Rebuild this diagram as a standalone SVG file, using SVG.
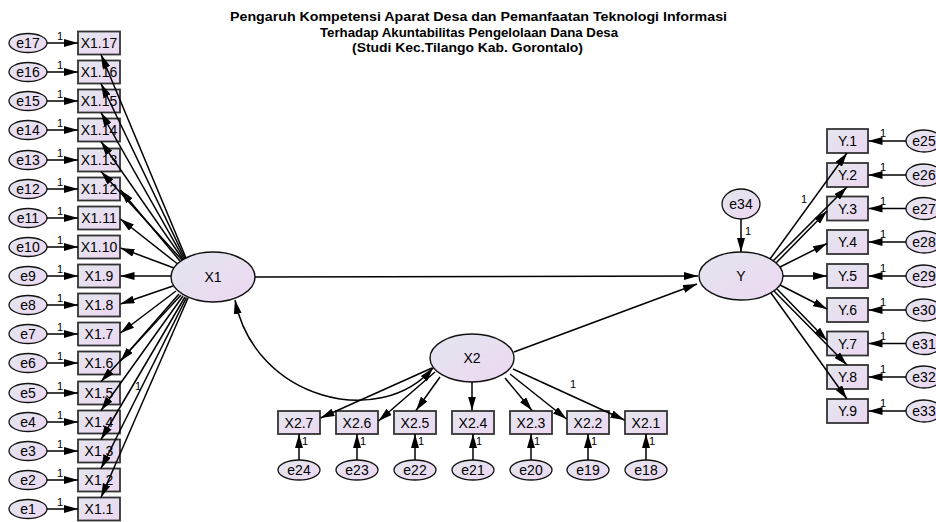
<svg xmlns="http://www.w3.org/2000/svg" width="936" height="522" viewBox="0 0 936 522">
<defs>
<linearGradient id="g" x1="0" y1="0" x2="1" y2="1">
<stop offset="0" stop-color="#e3e6ee"/>
<stop offset="1" stop-color="#edd7f2"/>
</linearGradient>
<marker id="ah" viewBox="0 0 14 8" refX="14" refY="4" markerWidth="14" markerHeight="8" markerUnits="userSpaceOnUse" orient="auto-start-reverse">
<path d="M0,0 L14,4 L0,8 z" fill="#000"/>
</marker>
</defs>
<style>
rect.ob{fill:url(#g);stroke:#333;stroke-width:1.8}
ellipse.lv{fill:url(#g);stroke:#111;stroke-width:1.4}
ellipse.er{fill:url(#g);stroke:#111;stroke-width:1.3}
text{font-family:"Liberation Sans",Arial,sans-serif;fill:#000}
text.n{font-size:14px;text-anchor:middle}
text.w{font-size:11px;text-anchor:middle}
text.t{font-size:13px;font-weight:bold}
#connectors path{fill:none;stroke:#000;stroke-width:1.5;marker-end:url(#ah)}
#connectors path.cov{marker-start:url(#ah)}
</style>
<rect x="0" y="0" width="936" height="522" fill="#fff"/>
<g id="title">
<text class="t" x="230" y="21" textLength="497" lengthAdjust="spacingAndGlyphs">Pengaruh Kompetensi Aparat Desa dan Pemanfaatan Teknologi Informasi</text>
<text class="t" x="320" y="37" textLength="298" lengthAdjust="spacingAndGlyphs">Terhadap Akuntabilitas Pengelolaan Dana Desa</text>
<text class="t" x="352" y="52" textLength="231" lengthAdjust="spacingAndGlyphs">(Studi Kec.Tilango Kab. Gorontalo)</text>
</g>
<!-- latent -->
<g id="X1"><ellipse class="lv" cx="213" cy="277" rx="42" ry="25"/><text class="n" x="213" y="282">X1</text></g>
<g id="X2"><ellipse class="lv" cx="472" cy="358" rx="42" ry="24"/><text class="n" x="472" y="363">X2</text></g>
<g id="Y"><ellipse class="lv" cx="741" cy="276" rx="42" ry="24"/><text class="n" x="741" y="281">Y</text></g>
<g id="e34"><ellipse class="er" cx="741" cy="204" rx="19" ry="15"/><text class="n" x="741" y="209">e34</text></g>
<!-- X1 indicators -->
<g id="X1.17"><rect class="ob" x="78" y="31.5" width="42" height="23"/><text class="n" x="99" y="48">X1.17</text></g>
<g id="X1.16"><rect class="ob" x="78" y="60.5" width="42" height="23"/><text class="n" x="99" y="77">X1.16</text></g>
<g id="X1.15"><rect class="ob" x="78" y="89.5" width="42" height="23"/><text class="n" x="99" y="106">X1.15</text></g>
<g id="X1.14"><rect class="ob" x="78" y="118.5" width="42" height="23"/><text class="n" x="99" y="135">X1.14</text></g>
<g id="X1.13"><rect class="ob" x="78" y="148.5" width="42" height="23"/><text class="n" x="99" y="165">X1.13</text></g>
<g id="X1.12"><rect class="ob" x="78" y="177.5" width="42" height="23"/><text class="n" x="99" y="194">X1.12</text></g>
<g id="X1.11"><rect class="ob" x="78" y="206.5" width="42" height="23"/><text class="n" x="99" y="223">X1.11</text></g>
<g id="X1.10"><rect class="ob" x="78" y="235.5" width="42" height="23"/><text class="n" x="99" y="252">X1.10</text></g>
<g id="X1.9"><rect class="ob" x="78" y="264.5" width="42" height="23"/><text class="n" x="99" y="281">X1.9</text></g>
<g id="X1.8"><rect class="ob" x="78" y="293.5" width="42" height="23"/><text class="n" x="99" y="310">X1.8</text></g>
<g id="X1.7"><rect class="ob" x="78" y="322.5" width="42" height="23"/><text class="n" x="99" y="339">X1.7</text></g>
<g id="X1.6"><rect class="ob" x="78" y="351.5" width="42" height="23"/><text class="n" x="99" y="368">X1.6</text></g>
<g id="X1.5"><rect class="ob" x="78" y="381.5" width="42" height="23"/><text class="n" x="99" y="398">X1.5</text></g>
<g id="X1.4"><rect class="ob" x="78" y="410.5" width="42" height="23"/><text class="n" x="99" y="427">X1.4</text></g>
<g id="X1.3"><rect class="ob" x="78" y="439.5" width="42" height="23"/><text class="n" x="99" y="456">X1.3</text></g>
<g id="X1.2"><rect class="ob" x="78" y="468.5" width="42" height="23"/><text class="n" x="99" y="485">X1.2</text></g>
<g id="X1.1"><rect class="ob" x="78" y="497.5" width="42" height="23"/><text class="n" x="99" y="514">X1.1</text></g>
<!-- X1 errors -->
<g id="e17"><ellipse class="er" cx="28" cy="43" rx="19" ry="9.5"/><text class="n" x="28" y="48">e17</text></g>
<g id="e16"><ellipse class="er" cx="28" cy="72" rx="19" ry="9.5"/><text class="n" x="28" y="77">e16</text></g>
<g id="e15"><ellipse class="er" cx="28" cy="101" rx="19" ry="9.5"/><text class="n" x="28" y="106">e15</text></g>
<g id="e14"><ellipse class="er" cx="28" cy="130" rx="19" ry="9.5"/><text class="n" x="28" y="135">e14</text></g>
<g id="e13"><ellipse class="er" cx="28" cy="160" rx="19" ry="9.5"/><text class="n" x="28" y="165">e13</text></g>
<g id="e12"><ellipse class="er" cx="28" cy="189" rx="19" ry="9.5"/><text class="n" x="28" y="194">e12</text></g>
<g id="e11"><ellipse class="er" cx="28" cy="218" rx="19" ry="9.5"/><text class="n" x="28" y="223">e11</text></g>
<g id="e10"><ellipse class="er" cx="28" cy="247" rx="19" ry="9.5"/><text class="n" x="28" y="252">e10</text></g>
<g id="e9"><ellipse class="er" cx="28" cy="276" rx="19" ry="9.5"/><text class="n" x="28" y="281">e9</text></g>
<g id="e8"><ellipse class="er" cx="28" cy="305" rx="19" ry="9.5"/><text class="n" x="28" y="310">e8</text></g>
<g id="e7"><ellipse class="er" cx="28" cy="334" rx="19" ry="9.5"/><text class="n" x="28" y="339">e7</text></g>
<g id="e6"><ellipse class="er" cx="28" cy="363" rx="19" ry="9.5"/><text class="n" x="28" y="368">e6</text></g>
<g id="e5"><ellipse class="er" cx="28" cy="393" rx="19" ry="9.5"/><text class="n" x="28" y="398">e5</text></g>
<g id="e4"><ellipse class="er" cx="28" cy="422" rx="19" ry="9.5"/><text class="n" x="28" y="427">e4</text></g>
<g id="e3"><ellipse class="er" cx="28" cy="451" rx="19" ry="9.5"/><text class="n" x="28" y="456">e3</text></g>
<g id="e2"><ellipse class="er" cx="28" cy="480" rx="19" ry="9.5"/><text class="n" x="28" y="485">e2</text></g>
<g id="e1"><ellipse class="er" cx="28" cy="509" rx="19" ry="9.5"/><text class="n" x="28" y="514">e1</text></g>
<!-- X2 indicators -->
<g id="X2.7"><rect class="ob" x="278" y="411" width="42" height="23"/><text class="n" x="299" y="427.5">X2.7</text></g>
<g id="X2.6"><rect class="ob" x="336" y="411" width="42" height="23"/><text class="n" x="357" y="427.5">X2.6</text></g>
<g id="X2.5"><rect class="ob" x="394" y="411" width="42" height="23"/><text class="n" x="415" y="427.5">X2.5</text></g>
<g id="X2.4"><rect class="ob" x="452" y="411" width="42" height="23"/><text class="n" x="473" y="427.5">X2.4</text></g>
<g id="X2.3"><rect class="ob" x="510" y="411" width="42" height="23"/><text class="n" x="531" y="427.5">X2.3</text></g>
<g id="X2.2"><rect class="ob" x="567" y="411" width="42" height="23"/><text class="n" x="588" y="427.5">X2.2</text></g>
<g id="X2.1"><rect class="ob" x="625" y="411" width="42" height="23"/><text class="n" x="646" y="427.5">X2.1</text></g>
<g id="e24"><ellipse class="er" cx="299" cy="470" rx="21" ry="10"/><text class="n" x="299" y="475">e24</text></g>
<g id="e23"><ellipse class="er" cx="357" cy="470" rx="21" ry="10"/><text class="n" x="357" y="475">e23</text></g>
<g id="e22"><ellipse class="er" cx="415" cy="470" rx="21" ry="10"/><text class="n" x="415" y="475">e22</text></g>
<g id="e21"><ellipse class="er" cx="473" cy="470" rx="21" ry="10"/><text class="n" x="473" y="475">e21</text></g>
<g id="e20"><ellipse class="er" cx="531" cy="470" rx="21" ry="10"/><text class="n" x="531" y="475">e20</text></g>
<g id="e19"><ellipse class="er" cx="588" cy="470" rx="21" ry="10"/><text class="n" x="588" y="475">e19</text></g>
<g id="e18"><ellipse class="er" cx="646" cy="470" rx="21" ry="10"/><text class="n" x="646" y="475">e18</text></g>
<!-- Y indicators -->
<g id="Y.1"><rect class="ob" x="827" y="129" width="41" height="24"/><text class="n" x="847.5" y="146">Y.1</text></g>
<g id="Y.2"><rect class="ob" x="827" y="163" width="41" height="24"/><text class="n" x="847.5" y="180">Y.2</text></g>
<g id="Y.3"><rect class="ob" x="827" y="196.5" width="41" height="24"/><text class="n" x="847.5" y="213.5">Y.3</text></g>
<g id="Y.4"><rect class="ob" x="827" y="230" width="41" height="24"/><text class="n" x="847.5" y="247">Y.4</text></g>
<g id="Y.5"><rect class="ob" x="827" y="264" width="41" height="24"/><text class="n" x="847.5" y="281">Y.5</text></g>
<g id="Y.6"><rect class="ob" x="827" y="298" width="41" height="24"/><text class="n" x="847.5" y="315">Y.6</text></g>
<g id="Y.7"><rect class="ob" x="827" y="331.5" width="41" height="24"/><text class="n" x="847.5" y="348.5">Y.7</text></g>
<g id="Y.8"><rect class="ob" x="827" y="365" width="41" height="24"/><text class="n" x="847.5" y="382">Y.8</text></g>
<g id="Y.9"><rect class="ob" x="827" y="399" width="41" height="24"/><text class="n" x="847.5" y="416">Y.9</text></g>
<g id="e25"><ellipse class="er" cx="924" cy="141" rx="18" ry="11"/><text class="n" x="924" y="146">e25</text></g>
<g id="e26"><ellipse class="er" cx="924" cy="175" rx="18" ry="11"/><text class="n" x="924" y="180">e26</text></g>
<g id="e27"><ellipse class="er" cx="924" cy="208.5" rx="18" ry="11"/><text class="n" x="924" y="213.5">e27</text></g>
<g id="e28"><ellipse class="er" cx="924" cy="242" rx="18" ry="11"/><text class="n" x="924" y="247">e28</text></g>
<g id="e29"><ellipse class="er" cx="924" cy="276" rx="18" ry="11"/><text class="n" x="924" y="281">e29</text></g>
<g id="e30"><ellipse class="er" cx="924" cy="310" rx="18" ry="11"/><text class="n" x="924" y="315">e30</text></g>
<g id="e31"><ellipse class="er" cx="924" cy="343.5" rx="18" ry="11"/><text class="n" x="924" y="348.5">e31</text></g>
<g id="e32"><ellipse class="er" cx="924" cy="377" rx="18" ry="11"/><text class="n" x="924" y="382">e32</text></g>
<g id="e33"><ellipse class="er" cx="924" cy="411" rx="18" ry="11"/><text class="n" x="924" y="416">e33</text></g>
<g id="connectors">
<!-- e -> X1.k -->
<path d="M47,43 H78"/><path d="M47,72 H78"/><path d="M47,101 H78"/><path d="M47,130 H78"/><path d="M47,160 H78"/><path d="M47,189 H78"/><path d="M47,218 H78"/><path d="M47,247 H78"/><path d="M47,276 H78"/><path d="M47,305 H78"/><path d="M47,334 H78"/><path d="M47,363 H78"/><path d="M47,393 H78"/><path d="M47,422 H78"/><path d="M47,451 H78"/><path d="M47,480 H78"/><path d="M47,509 H78"/>
<!-- X1 -> X1.k -->
<path d="M186,258 L101,54.5"/>
<path d="M185,258.5 L101,83.5"/>
<path d="M184,259 L101,112.5"/>
<path d="M183,259.5 L101,141.5"/>
<path d="M182,260 L101,171.5"/>
<path d="M180,261 L120.5,190"/>
<path d="M177,263.5 L120.5,219"/>
<path d="M174,268 L120.5,248"/>
<path d="M171,276 L120.5,276"/>
<path d="M173,286 L120.5,304"/>
<path d="M176,291 L120.5,333"/>
<path d="M179,294 L120.5,361"/>
<path d="M181,295 L101,381.5"/>
<path d="M183,296 L101,410.5"/>
<path d="M185,297 L101,439.5"/>
<path d="M186.5,297.5 L101,468.5"/>
<path d="M188,298 L101,497.5"/>
<!-- structural -->
<path d="M255,277 L698,276"/>
<path d="M514,352 L697,284"/>
<path class="cov" d="M235,300 C255,400 380,430 433,368"/>
<!-- X2 -> X2.k -->
<path d="M432,368 L320.5,418"/>
<path d="M435,372 L378.5,421"/>
<path d="M440,377 L416,410.5"/>
<path d="M472,382 L472,410.5"/>
<path d="M505,378 L532,410.5"/>
<path d="M510,374 L566.5,419"/>
<path d="M513,369 L624.5,420"/>
<!-- e -> X2.k -->
<path d="M299,460 V434"/><path d="M357,460 V434"/><path d="M415,460 V434"/><path d="M473,460 V434"/><path d="M531,460 V434"/><path d="M588,460 V434"/><path d="M646,460 V434"/>
<!-- e34 -> Y -->
<path d="M741,219 V252"/>
<!-- Y -> Y.i -->
<path d="M770,259 L847,153"/>
<path d="M773,261 L847,187"/>
<path d="M776,263 L827,211"/>
<path d="M780,267 L827,243.5"/>
<path d="M783,276 L827,276"/>
<path d="M780,285 L827,309"/>
<path d="M777,289 L827,340.5"/>
<path d="M774,291 L847,365"/>
<path d="M771,293 L847,399"/>
<!-- e -> Y.i -->
<path d="M906,141 H868.5"/><path d="M906,175 H868.5"/><path d="M906,208.5 H868.5"/><path d="M906,242 H868.5"/><path d="M906,276 H868.5"/><path d="M906,310 H868.5"/><path d="M906,343.5 H868.5"/><path d="M906,377 H868.5"/><path d="M906,411 H868.5"/>
</g>
<g id="weights">
<text class="w" x="60" y="40">1</text><text class="w" x="60" y="69">1</text><text class="w" x="60" y="98">1</text><text class="w" x="60" y="127">1</text><text class="w" x="60" y="157">1</text><text class="w" x="60" y="186">1</text><text class="w" x="60" y="215">1</text><text class="w" x="60" y="244">1</text><text class="w" x="60" y="273">1</text><text class="w" x="60" y="302">1</text><text class="w" x="60" y="331">1</text><text class="w" x="60" y="360">1</text><text class="w" x="60" y="390">1</text><text class="w" x="60" y="419">1</text><text class="w" x="60" y="448">1</text><text class="w" x="60" y="477">1</text><text class="w" x="60" y="506">1</text>
<text class="w" x="138" y="390">1</text>
<text class="w" x="573" y="388">1</text>
<text class="w" x="305" y="445">1</text><text class="w" x="363" y="445">1</text><text class="w" x="421" y="445">1</text><text class="w" x="479" y="445">1</text><text class="w" x="537" y="445">1</text><text class="w" x="594" y="445">1</text><text class="w" x="652" y="445">1</text>
<text class="w" x="748" y="235">1</text>
<text class="w" x="804" y="203">1</text>
<text class="w" x="883" y="137">1</text><text class="w" x="883" y="171">1</text><text class="w" x="883" y="204.5">1</text><text class="w" x="883" y="238">1</text><text class="w" x="883" y="272">1</text><text class="w" x="883" y="306">1</text><text class="w" x="883" y="339.5">1</text><text class="w" x="883" y="373">1</text><text class="w" x="883" y="407">1</text>
</g>
</svg>
